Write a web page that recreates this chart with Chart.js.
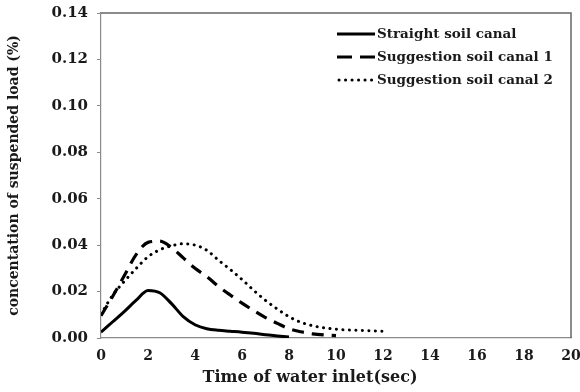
<!DOCTYPE html>
<html>
<head>
<meta charset="utf-8">
<script src="https://cdn.jsdelivr.net/npm/chart.js@4/dist/chart.umd.min.js"></script>
<style>
  body { margin: 0; background: #fff; }
  canvas { display: block; }
</style>
</head>
<body>
<canvas id="loadChart" width="580" height="392"></canvas>
<script>
// time of water inlet (sec), every half second
const timeSec = [0, 0.5, 1, 1.5, 2, 2.5, 3, 3.5, 4, 4.5, 5, 5.5, 6, 6.5, 7, 7.5, 8, 8.5, 9, 9.5, 10, 10.5, 11, 11.5, 12];

// concentration of suspended load (%)
const straightCanal = [0.0025, 0.0070, 0.0115, 0.0163, 0.0205, 0.0195, 0.0148, 0.0092, 0.0057, 0.0040, 0.0033, 0.0029, 0.0025, 0.0020, 0.0014, 0.0009, 0.0004];
const suggestion1 = [0.0096, 0.0180, 0.0270, 0.0360, 0.0412, 0.0417, 0.0390, 0.0345, 0.0300, 0.0265, 0.0222, 0.0185, 0.0150, 0.0118, 0.0088, 0.0063, 0.0040, 0.0027, 0.0018, 0.0013, 0.0010];
const suggestion2 = [0.0103, 0.0185, 0.0245, 0.0300, 0.0350, 0.0380, 0.0397, 0.0406, 0.0400, 0.0378, 0.0335, 0.0295, 0.0252, 0.0205, 0.0162, 0.0125, 0.0092, 0.0068, 0.0053, 0.0044, 0.0038, 0.0035, 0.0033, 0.0031, 0.0029];

const seriesNames = ['Straight soil canal', 'Suggestion soil canal 1', 'Suggestion soil canal 2'];
const xTitle = 'Time of water inlet(sec)';
const yTitle = 'concentation of suspended load (%)';

const serif = '"DejaVu Serif", "Liberation Serif", serif';
const axisGray = '#8a8a8a';
const frameGray = '#666666';
const inkColor = '#1a1a1a';

function toPoints(values) {
    return values.map((v, i) => ({ x: timeSec[i], y: v }));
}

// frame on top/right, legend inside the plot and the x title
const extrasPlugin = {
    id: 'extras',
    afterDraw(chart) {
        const ctx = chart.ctx;
        const area = chart.chartArea;

        ctx.save();
        ctx.setLineDash([]);
        ctx.lineCap = 'butt';
        ctx.strokeStyle = frameGray;
        ctx.lineWidth = 1.5;
        ctx.beginPath();
        ctx.moveTo(area.left, area.top);
        ctx.lineTo(area.right, area.top);
        ctx.lineTo(area.right, area.bottom);
        ctx.stroke();

        // legend
        const x0 = 337, x1 = 375, rows = [34, 57, 80];
        chart.data.datasets.forEach((ds, i) => {
            const y = rows[i];
            ctx.strokeStyle = ds.borderColor;
            ctx.lineWidth = ds.borderWidth;
            ctx.lineCap = ds.borderCapStyle || 'butt';
            ctx.setLineDash(i === 1 ? [15, 8] : (ds.borderDash || []));
            ctx.beginPath();
            ctx.moveTo(x0 + (i === 2 ? 2 : 0), y);
            ctx.lineTo(x1, y);
            ctx.stroke();
            ctx.setLineDash([]);
            ctx.fillStyle = inkColor;
            ctx.font = 'bold 13.5px ' + serif;
            ctx.textAlign = 'left';
            ctx.textBaseline = 'middle';
            ctx.fillText(ds.label, x1 + 2, y);
        });

        // x axis title
        ctx.font = 'bold 16px ' + serif;
        ctx.textAlign = 'center';
        ctx.textBaseline = 'middle';
        ctx.fillText(xTitle, 310, 378);
        ctx.restore();
    }
};

const ctx = document.getElementById('loadChart').getContext('2d');
new Chart(ctx, {
    type: 'line',
    data: {
        datasets: [{
            label: seriesNames[0],
            data: toPoints(straightCanal),
            borderColor: '#000',
            borderWidth: 3,
            pointRadius: 0,
            cubicInterpolationMode: 'monotone',
            fill: false
        }, {
            label: seriesNames[1],
            data: toPoints(suggestion1),
            borderColor: '#000',
            borderWidth: 3.2,
            borderDash: [12, 8],
            pointRadius: 0,
            cubicInterpolationMode: 'monotone',
            fill: false
        }, {
            label: seriesNames[2],
            data: toPoints(suggestion2),
            borderColor: '#000',
            borderWidth: 3,
            borderDash: [0.1, 6.4],
            borderCapStyle: 'round',
            pointRadius: 0,
            cubicInterpolationMode: 'monotone',
            fill: false
        }]
    },
    options: {
        responsive: false,
        animation: false,
        layout: { padding: { top: 13, right: 9, bottom: 0, left: 0 } },
        plugins: {
            legend: { display: false },
            tooltip: { enabled: false }
        },
        scales: {
            x: {
                type: 'linear',
                min: 0,
                max: 20,
                afterFit: scale => {
                    scale.height = 54;
                    scale.paddingLeft = 0;
                    scale.paddingRight = 0;
                },
                grid: { display: false, drawTicks: false },
                border: { color: axisGray, width: 1.2 },
                ticks: {
                    stepSize: 2,
                    padding: 10,
                    color: inkColor,
                    font: { family: serif, size: 14, weight: 'bold' }
                }
            },
            y: {
                min: 0,
                max: 0.14,
                afterFit: scale => {
                    scale.width = 101;
                    scale.paddingTop = 0;
                    scale.paddingBottom = 0;
                },
                grid: { drawOnChartArea: false, tickLength: 4, color: axisGray },
                border: { color: axisGray, width: 1.2 },
                ticks: {
                    stepSize: 0.02,
                    padding: 9,
                    color: inkColor,
                    font: { family: serif, size: 15, weight: 'bold' },
                    callback: value => value.toFixed(2)
                },
                title: {
                    display: true,
                    text: yTitle,
                    color: inkColor,
                    padding: { top: 6, bottom: 0 },
                    font: { family: serif, size: 14, weight: 'bold' }
                }
            }
        }
    },
    plugins: [extrasPlugin]
});
</script>
</body>
</html>
